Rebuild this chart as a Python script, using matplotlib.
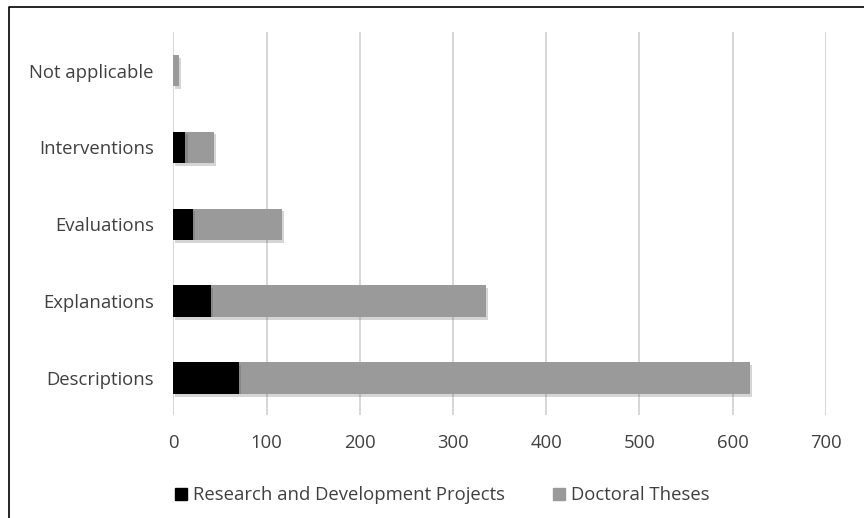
import matplotlib.pyplot as plt
import matplotlib.patheffects as pe
from matplotlib.lines import Line2D
from matplotlib.patches import Patch

# categories bottom to top
categories = ['Descriptions', 'Explanations', 'Evaluations', 'Interventions', 'Not applicable']
rd_projects = [70, 40, 21, 13, 0]
doctoral_theses = [549, 295, 96, 31, 6]
x_ticks = [0, 100, 200, 300, 400, 500, 600, 700]

plt.rcParams['font.family'] = ['Open Sans', 'DejaVu Sans']

fig = plt.figure(figsize=(8.64, 5.18), dpi=100)
ax = fig.add_axes([0.2006, 0.199, 0.7551, 0.739])

# soft drop shadow like the original
shadow = [pe.SimplePatchShadow(offset=(1.5, -2), alpha=0.22, shadow_rgbFace='#444444'), pe.Normal()]

y = range(len(categories))
b1 = ax.barh(y, rd_projects, height=0.41, color='#000000', zorder=4)
b2 = ax.barh(y, doctoral_theses, left=rd_projects, height=0.41, color='#9a9a9a', zorder=3)
for bar in list(b1) + list(b2):
    bar.set_path_effects(shadow)

ax.set_xlim(0, 700)
ax.set_ylim(-0.48, 4.5)
ax.set_xticks(x_ticks)
ax.set_yticks(list(y))
ax.set_yticklabels(categories)
ax.grid(axis='x', color='#cfcfcf', linewidth=1.2, zorder=0)
ax.set_axisbelow(True)
for s in ax.spines.values():
    s.set_visible(False)
ax.tick_params(axis='both', length=0, labelsize=13.3, colors='#404040')
ax.tick_params(axis='y', pad=14)
ax.tick_params(axis='x', pad=14)

handles = [Patch(color='#000000', label='Research and Development Projects'),
           Patch(color='#9a9a9a', label='Doctoral Theses')]
fig.legend(handles=handles, loc='center', bbox_to_anchor=(0.512, 0.044), ncol=2,
           frameon=False, fontsize=13.3, handlelength=0.65, handleheight=0.65,
           handletextpad=0.3, columnspacing=2.6, labelcolor='#404040')

# outer chart border (left and top only visible)
fig.add_artist(Line2D([9 / 864, 9 / 864, 1], [0, 1 - 7 / 518, 1 - 7 / 518],
                      transform=fig.transFigure, color='black', linewidth=1.2))

fig.savefig('out.png', dpi=100)
